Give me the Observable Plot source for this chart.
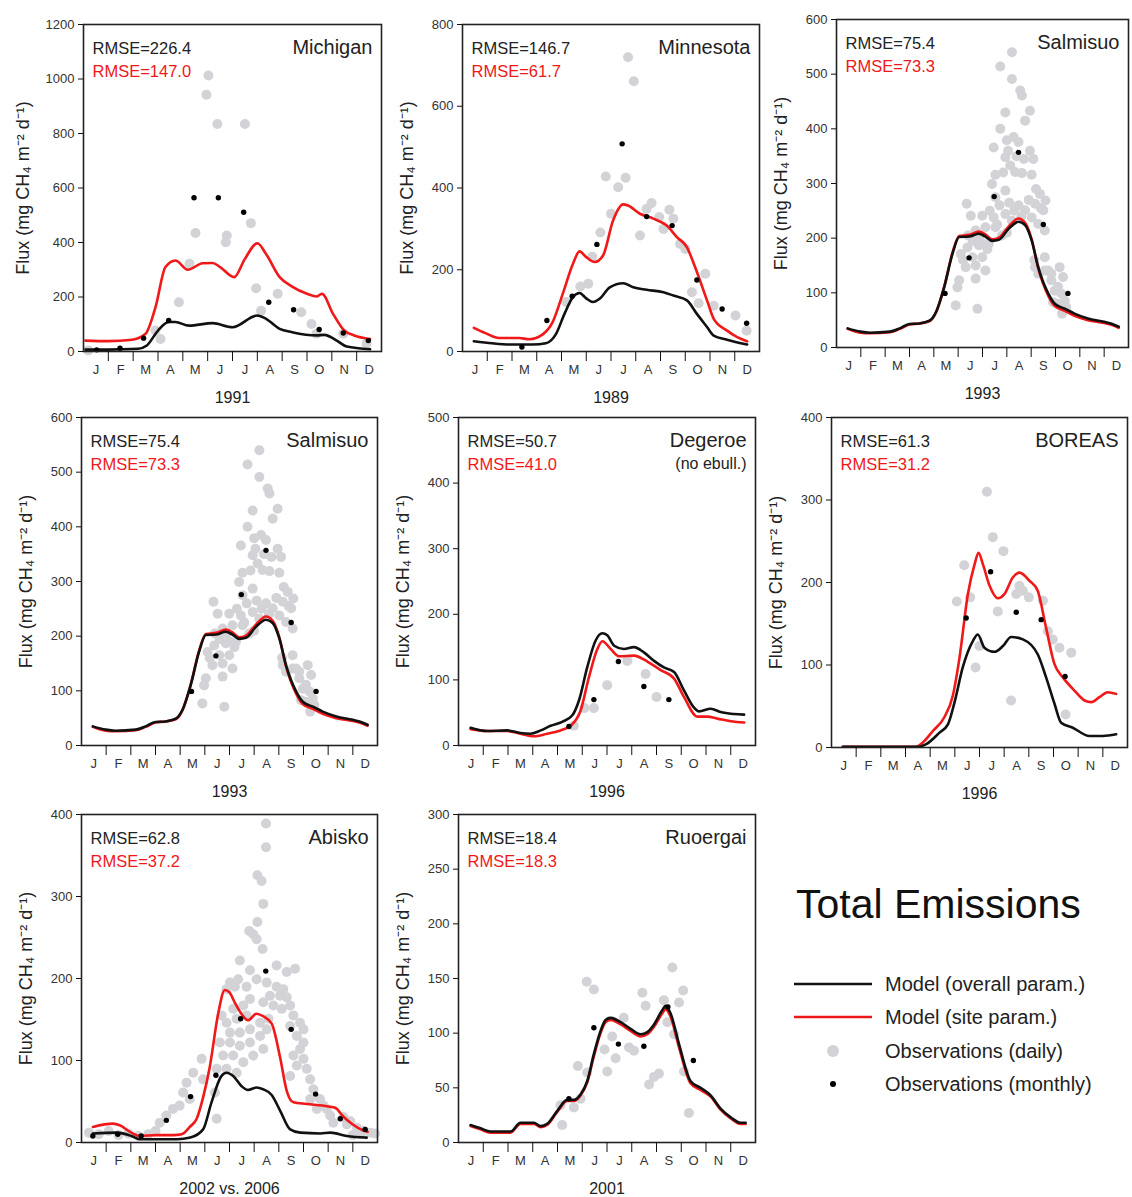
<!DOCTYPE html>
<html><head><meta charset="utf-8">
<script src="https://cdn.jsdelivr.net/npm/d3@7"></script>
<script src="https://cdn.jsdelivr.net/npm/@observablehq/plot@0.6"></script>
<style>
body{margin:0;background:#fff;font-family:"Liberation Sans",Arial,sans-serif;}
#wrap{position:relative;width:1132px;height:1197px;overflow:hidden;background:#fff;}
#wrap > svg, #wrap > figure{position:absolute;margin:0;}
</style></head><body><div id="wrap"></div>
<script>
// ---------- tick labels ----------
const months = ["J","F","M","A","M","J","J","A","S","O","N","D"];
const yLabel = "Flux (mg CH\u2084 m\u207B\u00B2 d\u207B\u00B9)";

// ---------- data: [month position (0-12), flux] ----------
const michiganOverall = [[0.08,7],[1.0,7],[2.2,10],[2.55,22],[3.0,77],[3.43,108],[3.7,108],[4.25,95],[5.2,104],[6.0,89],[7.0,132],[7.35,120],[7.9,83],[8.4,71],[9.4,59],[9.7,61],[10.2,40],[10.6,18],[11.54,8]];
const michiganSite = [[0.08,40],[1.0,38],[1.95,43],[2.5,65],[2.9,163],[3.3,310],[3.7,334],[4.2,300],[4.8,324],[5.2,325],[5.5,310],[6.07,273],[6.5,340],[7.0,397],[7.35,358],[7.9,273],[8.4,238],[9.0,212],[9.4,202],[9.6,212],[10.05,138],[10.5,77],[10.9,59],[11.54,46]];
const michiganMonthly = [[0.53,6],[1.47,12],[2.42,49],[3.43,114],[4.45,564],[5.43,564],[6.45,511],[7.46,181],[8.46,153],[9.49,81],[10.46,68],[11.47,40]];
const michiganDaily = [[0.19,4],[2.9,77],[3.1,46],[3.84,181],[4.27,322],[4.51,435],[4.95,942],[5.03,1013],[5.39,835],[5.73,401],[5.77,426],[6.5,835],[6.74,471],[6.95,232],[7.15,150],[7.82,212],[8.77,144],[9.18,101],[9.38,65],[10.46,65],[11.4,28]];

const minnesotaOverall = [[0.46,25],[1.2,20],[2.0,17],[2.83,17],[3.37,20],[3.78,43],[4.12,92],[4.46,133],[4.73,143],[5.0,130],[5.27,121],[5.54,129],[5.95,157],[6.49,167],[6.9,157],[7.44,151],[8.12,145],[8.52,137],[9.07,125],[9.47,92],[9.88,60],[10.15,39],[10.69,29],[11.5,17]];
const minnesotaSite = [[0.46,58],[0.93,45],[1.48,33],[2.29,33],[2.7,30],[3.24,42],[3.64,72],[4.05,141],[4.46,214],[4.73,245],[5.0,231],[5.34,219],[5.68,235],[6.08,320],[6.49,360],[6.69,357],[7.17,337],[7.71,325],[8.25,308],[8.66,280],[9.07,255],[9.4,206],[9.88,125],[10.15,80],[10.69,51],[11.1,35],[11.5,25]];
const minnesotaMonthly = [[2.4,11],[3.41,76],[4.43,135],[5.43,262],[6.45,508],[7.44,330],[8.47,308],[9.47,175],[10.49,104],[11.48,69]];
const minnesotaDaily = [[4.19,121],[4.76,159],[5.08,166],[5.24,232],[5.57,291],[5.79,428],[6.0,337],[6.29,402],[6.59,425],[6.69,720],[6.92,661],[7.17,284],[7.44,349],[7.64,363],[7.95,329],[8.12,300],[8.36,347],[8.52,325],[8.79,263],[9.0,251],[9.27,145],[9.54,118],[9.81,190],[10.15,112],[11.03,88],[11.48,51]];

const salmisuoOverall = [[0.46,35],[0.98,29],[1.38,27],[2.2,29],[2.6,35],[3.0,43],[3.41,44],[3.82,49],[4.09,65],[4.43,111],[4.77,172],[5.04,202],[5.45,203],[5.85,208],[6.12,203],[6.4,195],[6.67,197],[7.07,217],[7.48,230],[7.75,224],[8.02,196],[8.29,147],[8.7,99],[8.97,80],[9.38,71],[9.78,62],[10.33,53],[11.0,47],[11.27,44],[11.6,38]];
const salmisuoSite = [[0.46,34],[0.98,27],[1.38,26],[2.2,28],[2.6,34],[3.0,42],[3.41,44],[3.82,48],[4.09,64],[4.43,112],[4.77,174],[5.04,204],[5.45,206],[5.85,212],[6.12,207],[6.4,198],[6.67,201],[7.07,221],[7.48,236],[7.75,228],[8.02,198],[8.29,145],[8.7,95],[8.97,76],[9.38,67],[9.78,58],[10.33,50],[11.0,45],[11.27,42],[11.6,36]];
const salmisuoMonthly = [[4.46,99],[5.45,164],[6.48,276],[7.48,357],[8.5,225],[9.51,99]];
const salmisuoDaily = [[7.21,540],[6.73,514],[7.21,491],[7.55,470],[7.62,461],[6.94,430],[7.95,433],[7.75,415],[6.73,400],[7.28,385],[7.0,379],[6.46,366],[7.48,376],[7.95,360],[8.09,345],[6.94,348],[7.14,333],[7.34,321],[7.62,319],[8.02,316],[6.53,316],[6.39,299],[6.94,287],[6.53,275],[8.36,281],[8.16,263],[8.5,251],[5.35,263],[5.99,241],[5.52,241],[6.94,244],[6.46,238],[7.48,260],[7.75,251],[8.02,238],[7.21,232],[6.12,220],[5.72,214],[6.53,220],[8.29,226],[5.38,183],[5.85,187],[6.26,190],[5.11,171],[5.59,165],[5.99,165],[5.31,147],[5.72,150],[5.04,123],[6.12,141],[5.72,126],[4.97,110],[4.9,77],[5.79,71],[8.16,147],[8.56,141],[8.83,135],[8.97,104],[9.1,80],[8.56,165],[8.59,269],[8.56,214],[8.13,160],[8.7,141],[8.83,123],[9.17,147],[9.31,129],[9.1,111],[9.24,99],[9.38,86],[9.44,74],[9.27,62],[8.9,83],[8.29,135],[6.8,205],[7.0,210],[6.6,225],[7.3,250],[7.1,265],[6.3,250],[6.7,260],[5.6,195],[5.9,205],[6.2,180],[5.4,205],[5.2,160],[6.0,190],[7.6,240],[7.9,270],[8.2,290],[8.4,255],[6.85,320],[7.05,360],[7.4,350],[7.7,345]];

const degeroeOverall = [[0.49,27],[1.16,22],[1.97,23],[2.5,19],[2.91,18],[3.32,23],[3.72,30],[4.19,36],[4.6,46],[4.87,69],[5.2,119],[5.54,160],[5.81,171],[6.01,168],[6.29,152],[6.68,147],[7.09,150],[7.49,142],[7.9,129],[8.3,119],[8.71,112],[9.11,84],[9.51,58],[9.72,52],[10.19,56],[10.59,51],[11.13,48],[11.54,47]];
const degeroeSite = [[0.49,25],[1.16,22],[1.97,22],[2.5,18],[3.05,14],[3.58,18],[4.12,23],[4.53,30],[4.93,53],[5.27,104],[5.61,147],[5.81,159],[6.15,147],[6.48,136],[7.09,137],[7.63,128],[8.17,115],[8.71,102],[9.11,74],[9.65,44],[10.05,44],[10.46,41],[11.0,37],[11.54,35]];
const degeroeMonthly = [[4.46,29],[5.47,70],[6.46,128],[7.49,90],[8.5,70]];
const degeroeDaily = [[4.66,30],[5.09,57],[5.47,57],[6.01,92],[6.82,129],[7.56,109],[8.0,74]];

const boreasOverall = [[0.46,1],[3.57,1],[3.84,4],[4.38,18],[4.72,28],[4.99,55],[5.32,97],[5.73,129],[5.93,137],[6.2,121],[6.61,116],[6.95,123],[7.28,134],[7.76,131],[8.36,113],[8.7,85],[9.04,53],[9.31,30],[9.78,24],[10.46,14],[11.0,14],[11.54,16]];
const boreasSite = [[0.46,1],[3.43,1],[3.7,6],[4.11,20],[4.58,37],[4.92,63],[5.19,109],[5.53,186],[5.8,222],[5.96,236],[6.14,222],[6.41,196],[6.74,181],[7.01,186],[7.35,206],[7.62,212],[8.03,202],[8.36,190],[8.7,145],[9.04,101],[9.38,85],[9.85,69],[10.26,57],[10.53,55],[10.86,61],[11.2,67],[11.54,65]];
const boreasMonthly = [[5.46,157],[6.45,213],[7.49,164],[8.5,155],[9.47,86]];
const boreasDaily = [[5.08,177],[5.38,221],[5.62,182],[5.84,97],[6.0,123],[6.3,310],[6.54,255],[6.74,165],[6.97,238],[7.28,57],[7.49,186],[7.62,196],[7.76,190],[8.0,182],[8.57,178],[8.77,141],[8.97,131],[9.24,121],[9.49,40],[9.72,115]];

const abiskoOverall = [[0.46,11],[1.42,12],[2.02,8],[2.36,4],[3.87,4],[4.41,6],[4.93,16],[5.27,49],[5.67,81],[5.88,85],[6.15,81],[6.48,69],[6.75,64],[7.09,67],[7.36,65],[7.71,58],[8.05,39],[8.46,16],[8.87,12],[9.68,11],[10.09,12],[10.76,8],[11.56,6]];
const abiskoSite = [[0.46,19],[1.28,23],[1.55,21],[2.02,12],[2.36,8],[3.04,9],[3.72,9],[4.06,10],[4.39,19],[4.67,29],[4.93,55],[5.2,92],[5.54,157],[5.81,186],[6.0,183],[6.21,171],[6.48,157],[6.75,149],[7.09,157],[7.36,154],[7.71,145],[8.05,104],[8.32,63],[8.59,49],[9.13,47],[10.0,44],[10.3,42],[10.6,32],[11.0,22],[11.4,15],[11.6,13]];
const abiskoMonthly = [[0.46,8],[1.47,10],[2.42,8],[3.44,27],[4.42,56],[5.45,82],[6.45,151],[7.47,209],[8.5,138],[9.49,59],[10.49,29],[11.5,16]];
const abiskoDaily = [[7.48,389],[7.48,360],[7.13,326],[7.3,319],[7.37,291],[7.13,269],[6.8,258],[6.96,254],[7.1,248],[7.34,236],[6.42,222],[7.91,216],[8.32,208],[8.66,212],[6.83,210],[6.35,199],[6.02,195],[5.88,187],[6.22,190],[6.69,190],[7.1,199],[7.51,195],[7.91,190],[8.18,187],[7.64,179],[8.05,179],[8.32,177],[7.37,171],[7.78,167],[8.12,163],[8.46,167],[6.83,175],[6.56,167],[6.15,163],[5.68,155],[5.88,146],[6.29,151],[6.69,155],[6.02,134],[6.42,134],[6.83,138],[7.24,146],[7.58,151],[5.61,122],[6.02,122],[6.42,118],[6.83,122],[7.24,130],[7.51,138],[5.74,106],[6.15,106],[6.56,98],[6.96,106],[7.37,114],[5.48,90],[5.88,90],[6.29,85],[4.87,102],[4.93,77],[4.53,85],[4.26,73],[4.12,61],[4.39,53],[3.98,45],[3.71,41],[3.44,33],[3.17,24],[5.48,29],[5.41,61],[8.46,142],[8.73,130],[8.86,114],[9.0,102],[9.13,90],[9.27,77],[9.4,65],[8.59,106],[8.73,94],[8.46,81],[9.0,122],[9.67,53],[9.94,41],[10.08,33],[9.81,45],[10.21,24],[9.27,53],[9.54,41],[8.59,155],[8.86,146],[9.0,138],[10.62,31],[10.9,26],[11.17,18],[11.44,14],[11.71,12],[10.76,22],[0.3,12],[0.7,10],[1.1,14],[1.5,9],[1.9,11],[2.3,8],[2.7,10],[3.0,14],[11.0,9],[11.3,10],[11.9,11]];

const ruoergaiOverall = [[0.49,16],[0.89,13],[1.29,10],[2.1,10],[2.5,18],[3.05,18],[3.32,15],[3.58,17],[3.99,29],[4.39,39],[4.66,39],[4.93,44],[5.2,56],[5.47,81],[5.74,102],[5.94,112],[6.15,114],[6.55,110],[6.95,104],[7.36,99],[7.63,101],[7.9,108],[8.23,121],[8.37,125],[8.57,118],[8.91,90],[9.38,56],[9.78,50],[10.19,43],[10.59,31],[11.0,23],[11.4,18],[11.6,18]];
const ruoergaiSite = [[0.49,15],[0.89,12],[1.29,9],[2.1,9],[2.5,17],[3.05,17],[3.32,14],[3.58,16],[3.99,28],[4.39,38],[4.66,38],[4.93,43],[5.2,55],[5.47,79],[5.74,100],[5.94,110],[6.15,112],[6.55,108],[6.95,102],[7.36,97],[7.63,99],[7.9,106],[8.23,118],[8.37,122],[8.57,115],[8.91,87],[9.38,54],[9.78,48],[10.19,42],[10.59,30],[11.0,22],[11.4,17],[11.6,17]];
const ruoergaiMonthly = [[4.46,40],[5.47,105],[6.46,90],[7.49,88],[8.46,124],[9.49,75]];
const ruoergaiDaily = [[4.19,16],[4.12,34],[4.66,32],[4.93,40],[4.82,70],[5.2,64],[5.18,147],[5.47,140],[5.9,85],[6.01,65],[6.21,97],[6.35,77],[6.68,114],[6.89,87],[7.09,84],[7.43,137],[7.56,125],[7.7,53],[7.9,60],[8.1,63],[8.3,130],[8.44,110],[8.64,160],[8.71,99],[8.91,128],[9.08,139],[9.11,65],[9.31,27]];

// ---------- panel descriptions ----------
const sites = [
  {name:"Michigan", sub:null, year:"1991", ymax:1200, ystep:200, rmse:["RMSE=226.4","RMSE=147.0"], overall:michiganOverall, site:michiganSite, monthly:michiganMonthly, daily:michiganDaily},
  {name:"Minnesota", sub:null, year:"1989", ymax:800, ystep:200, rmse:["RMSE=146.7","RMSE=61.7"], overall:minnesotaOverall, site:minnesotaSite, monthly:minnesotaMonthly, daily:minnesotaDaily},
  {name:"Salmisuo", sub:null, year:"1993", ymax:600, ystep:100, rmse:["RMSE=75.4","RMSE=73.3"], overall:salmisuoOverall, site:salmisuoSite, monthly:salmisuoMonthly, daily:salmisuoDaily},
  {name:"Salmisuo", sub:null, year:"1993", ymax:600, ystep:100, rmse:["RMSE=75.4","RMSE=73.3"], overall:salmisuoOverall, site:salmisuoSite, monthly:salmisuoMonthly, daily:salmisuoDaily},
  {name:"Degeroe", sub:"(no ebull.)", year:"1996", ymax:500, ystep:100, rmse:["RMSE=50.7","RMSE=41.0"], overall:degeroeOverall, site:degeroeSite, monthly:degeroeMonthly, daily:degeroeDaily},
  {name:"BOREAS", sub:null, year:"1996", ymax:400, ystep:100, rmse:["RMSE=61.3","RMSE=31.2"], overall:boreasOverall, site:boreasSite, monthly:boreasMonthly, daily:boreasDaily},
  {name:"Abisko", sub:null, year:"2002 vs. 2006", ymax:400, ystep:100, rmse:["RMSE=62.8","RMSE=37.2"], overall:abiskoOverall, site:abiskoSite, monthly:abiskoMonthly, daily:abiskoDaily},
  {name:"Ruoergai", sub:null, year:"2001", ymax:300, ystep:50, rmse:["RMSE=18.4","RMSE=18.3"], overall:ruoergaiOverall, site:ruoergaiSite, monthly:ruoergaiMonthly, daily:ruoergaiDaily}
];

// ---------- layout: frame [left, top, right, bottom] ----------
const frames = [
  [83,24,381,351],[462,24,759,351],[836,19,1128,347],
  [81,417,377,745],[458,417,755,745],[831,417,1127,747],
  [81,814,377,1142],[458,814,755,1142]
];

const FONT = '"Liberation Sans", Arial, Helvetica, sans-serif';
const RED = "#f01818", BLACK = "#111", GRAY = "#d3d3d7";
const wrap = document.getElementById("wrap");

sites.forEach((p, k) => {
  const [fl, ft, fr, fb] = frames[k];
  const mL = 84, mT = 24, mR = 8, mB = 62;
  const width = fr - fl + mL + mR, height = fb - ft + mT + mB;
  const px = d => d[0], py = d => d[1];
  const ylabOff = p.ymax >= 1000 ? 60 : 55;
  const marks = [
    Plot.dot(p.daily, {x: px, y: py, r: 5, fill: GRAY, stroke: "none"}),
    Plot.line(p.site, {x: px, y: py, stroke: RED, strokeWidth: 2.6, curve: "monotone-x"}),
    Plot.line(p.overall, {x: px, y: py, stroke: BLACK, strokeWidth: 2.6, curve: "monotone-x"}),
    Plot.dot(p.monthly, {x: px, y: py, r: 2.7, fill: "#000", stroke: "none"}),
    Plot.frame({stroke: "#222", strokeWidth: 1.6}),
    Plot.axisY({ticks: d3.range(0, p.ymax + 1, p.ystep), tickSize: 5, tickPadding: 4, fontSize: 13, tickFormat: d3.format("d"), label: null, fill: "#333"}),
    Plot.axisX({ticks: d3.range(1, 12), tickSize: 10, tickFormat: () => "", label: null}),
    Plot.axisX({ticks: d3.range(12).map(i => i + 0.5), tickSize: 0, tickPadding: 13, tickFormat: (d, i) => months[i], fontSize: 13, label: null, fill: "#333"}),
    Plot.text([p.year], {text: d => d, frameAnchor: "bottom", lineAnchor: "middle", textAnchor: "middle", dy: 46, fontSize: 16, fill: "#222"}),
    Plot.text([yLabel], {text: d => d, frameAnchor: "left", lineAnchor: "middle", textAnchor: "middle", rotate: -90, dx: -ylabOff, fontSize: 18, fill: "#222"}),
    Plot.text([p.rmse[0]], {text: d => d, frameAnchor: "top-left", lineAnchor: "middle", textAnchor: "start", dx: 9, dy: 24, fontSize: 16.5, fill: "#222"}),
    Plot.text([p.rmse[1]], {text: d => d, frameAnchor: "top-left", lineAnchor: "middle", textAnchor: "start", dx: 9, dy: 47, fontSize: 16.5, fill: RED}),
    Plot.text([p.name], {text: d => d, frameAnchor: "top-right", lineAnchor: "middle", textAnchor: "end", dx: -9, dy: 23, fontSize: 20, fill: "#222"})
  ];
  if (p.sub) marks.push(Plot.text([p.sub], {text: d => d, frameAnchor: "top-right", lineAnchor: "middle", textAnchor: "end", dx: -9, dy: 46, fontSize: 16, fill: "#222"}));
  const chart = Plot.plot({
    width, height, marginLeft: mL, marginTop: mT, marginRight: mR, marginBottom: mB,
    style: {background: "transparent", fontFamily: FONT, color: "#111", overflow: "visible"},
    x: {domain: [0, 12]},
    y: {domain: [0, p.ymax]},
    marks
  });
  chart.style.left = (fl - mL) + "px";
  chart.style.top = (ft - mT) + "px";
  chart.style.position = "absolute";
  chart.style.maxWidth = "none";
  wrap.appendChild(chart);
});

// ---------- legend ----------
const legendItems = [
  {label: "Model (overall param.)", kind: "line", color: BLACK},
  {label: "Model (site param.)", kind: "line", color: RED},
  {label: "Observations (daily)", kind: "dot", color: GRAY, r: 6},
  {label: "Observations (monthly)", kind: "dot", color: "#000", r: 3}
];
const ns = "http://www.w3.org/2000/svg";
const lg = document.createElementNS(ns, "svg");
lg.setAttribute("width", 350); lg.setAttribute("height", 260);
lg.style.left = "780px"; lg.style.top = "860px"; lg.style.position = "absolute";
lg.style.fontFamily = FONT;
let t = document.createElementNS(ns, "text");
t.setAttribute("x", 16); t.setAttribute("y", 58); t.setAttribute("font-size", 41); t.setAttribute("fill", "#111");
t.textContent = "Total Emissions"; lg.appendChild(t);
const ys = [124, 157, 191, 224];
legendItems.forEach((it, i) => {
  const y = ys[i];
  if (it.kind === "line") {
    const l = document.createElementNS(ns, "line");
    l.setAttribute("x1", 14); l.setAttribute("x2", 92); l.setAttribute("y1", y); l.setAttribute("y2", y);
    l.setAttribute("stroke", it.color); l.setAttribute("stroke-width", 2.6); lg.appendChild(l);
  } else {
    const c = document.createElementNS(ns, "circle");
    c.setAttribute("cx", 53); c.setAttribute("cy", y); c.setAttribute("r", it.r); c.setAttribute("fill", it.color); lg.appendChild(c);
  }
  const tx = document.createElementNS(ns, "text");
  tx.setAttribute("x", 105); tx.setAttribute("y", y + 7); tx.setAttribute("font-size", 20); tx.setAttribute("fill", "#222");
  tx.textContent = it.label; lg.appendChild(tx);
});
wrap.appendChild(lg);
</script></body></html>
